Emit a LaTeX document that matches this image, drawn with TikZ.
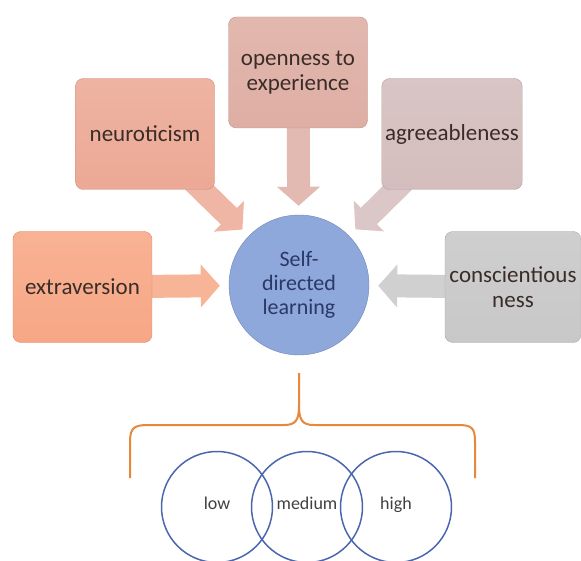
\documentclass[tikz,border=0pt]{standalone}
\usepackage{fontspec}
\setmainfont{Carlito}
\usepackage{xcolor}
\usepackage{tikz}
\usetikzlibrary{arrows.meta,backgrounds}

\definecolor{extcol}{HTML}{F7A785}
\definecolor{neucol}{HTML}{ECA995}
\definecolor{opecol}{HTML}{DEAEA4}
\definecolor{agrcol}{HTML}{D4BDBD}
\definecolor{concol}{HTML}{C8C8C8}
\definecolor{sdlcol}{HTML}{8EA8DC}
\definecolor{boxtext}{HTML}{3A2C28}
\definecolor{sdltext}{HTML}{2C3866}
\definecolor{vennblue}{HTML}{4C66AE}
\definecolor{braceorange}{HTML}{E8883A}

\begin{document}
\begin{tikzpicture}[x=1pt, y=-1pt,
    trait/.style={draw=#1!85!black, top color=#1!88!white, bottom color=#1,
        rounded corners=8pt, minimum width=139pt, minimum height=111pt,
        align=center, text=boxtext, font=\fontsize{23}{25}\selectfont},
    fatarrow/.style={#1!85!white, line width=23pt,
        -{Triangle[width=42pt,length=19pt]}, shorten >=9pt, shorten <=-12pt},
    level/.style={circle, draw=vennblue, line width=1.5pt, minimum size=111pt,
        text height=1.6ex, text depth=0.4ex,
        text=black!75, font=\fontsize{18}{20}\selectfont}]
    \useasboundingbox (0,0) rectangle (581,561);

    \node[circle, draw=sdlcol!80!black, fill=sdlcol, minimum size=140pt,
        align=center, text=sdltext, font=\fontsize{22}{24}\selectfont]
        (sdl) at (299,285) {Self-\\directed\\learning};

    \node[trait=extcol] (ext) at (82.5,287) {extraversion};
    \node[trait=neucol] (neu) at (145,134) {neuroticism};
    \node[trait=opecol] (ope) at (298,72.5) {openness to\\experience};
    \node[trait=agrcol] (agr) at (452,134) {agreeableness};
    \node[trait=concol, minimum width=136pt] (con) at (513,287) {conscientious\\ness};

    \begin{pgfonlayer}{background}
        \draw[fatarrow=extcol] (ext) -- (sdl);
        \draw[fatarrow=neucol] (neu) -- (sdl);
        \draw[fatarrow=opecol] (ope) -- (sdl);
        \draw[fatarrow=agrcol] (agr) -- (sdl);
        \draw[fatarrow=concol] (con) -- (sdl);
    \end{pgfonlayer}

    % brace under the circle
    \draw[braceorange, line width=2pt]
        (130,478) -- (130,442) .. controls (130,428) and (134,425) .. (148,425)
        -- (284,425) .. controls (296,425) and (299,420) .. (299,405) -- (299,373)
        (299,405) .. controls (299,420) and (302,425) .. (314,425)
        -- (458,425) .. controls (472,425) and (475,428) .. (475,442) -- (475,478);

    \foreach \name/\lbl/\xx in {low/low/217, medium/medium/307, high/high/396}
        \node[level] (\name) at (\xx,507) {\lbl};
\end{tikzpicture}
\end{document}
